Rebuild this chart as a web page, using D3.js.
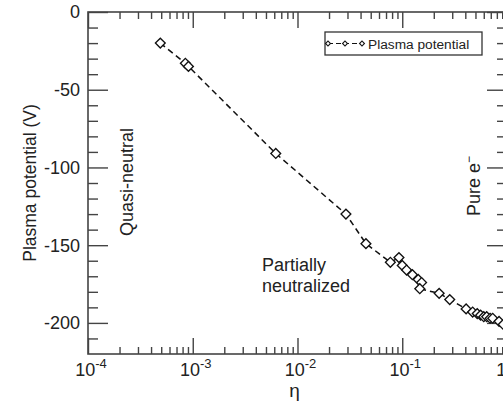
<!DOCTYPE html>
<html>
<head>
<meta charset="utf-8">
<script src="https://cdn.jsdelivr.net/npm/d3@7"></script>
<style>
  body { margin: 0; background: #fff; }
  text { font-family: "Liberation Sans", Arial, sans-serif; fill: #222; }
</style>
</head>
<body>
<div id="wrapper"></div>
<script>
// data
const etaValues = [4.9e-4, 8.5e-4, 9.1e-4, 6.2e-3, 0.029, 0.045, 0.077, 0.093, 0.100, 0.110,
  0.125, 0.142, 0.153, 0.147, 0.225, 0.284, 0.407, 0.47, 0.52, 0.56, 0.60, 0.64, 0.69, 0.73,
  0.84, 0.92]
const potentialValues = [-20, -33, -35, -91, -130, -149, -161, -158, -163, -166,
  -169, -172, -174, -178, -181, -185, -191, -193, -194, -195, -196, -196, -197, -197,
  -199, -201]

const xDecades = [1e-4, 1e-3, 1e-2, 1e-1, 1]
const xTickExponents = ["-4", "-3", "-2", "-1", "0"]
const yMajorTicks = [0, -50, -100, -150, -200]
const regionLabels = ["Quasi-neutral", "Partially", "neutralized", "Pure e"]
const legendLabel = "Plasma potential"

function drawChart() {
  const dataset = etaValues.map((d, i) => ({ eta: d, v: potentialValues[i] }))
  const xAccessor = d => d.eta
  const yAccessor = d => d.v

  // dimensions
  let dimensions = {
    width: 503,
    height: 402,
    left: 88,
    right: 507,
    top: 12,
    bottom: 354,
  }

  const svg = d3.select("#wrapper").append("svg")
    .attr("width", dimensions.width)
    .attr("height", dimensions.height)

  // scales
  const xScale = d3.scaleLog()
    .domain([1e-4, 1])
    .range([dimensions.left, dimensions.right])

  const yScale = d3.scaleLinear()
    .domain([-220, 0])
    .range([dimensions.bottom, dimensions.top])

  // minor ticks
  const xMinor = []
  xDecades.slice(0, -1).forEach(dec => {
    for (let k = 2; k <= 9; k++) xMinor.push(dec * k)
  })
  const yMinor = d3.range(-210, 0, 10).filter(d => d % 50 !== 0)

  const tickStyle = g => {
    g.select(".domain").remove()
    g.selectAll("line").attr("stroke", "#444").attr("stroke-width", 1.4)
  }

  // left / right axes
  svg.append("g").attr("transform", `translate(${dimensions.left},0)`)
    .call(d3.axisRight(yScale).tickValues(yMajorTicks).tickSize(20).tickFormat(""))
    .call(tickStyle)
  svg.append("g").attr("transform", `translate(${dimensions.left},0)`)
    .call(d3.axisRight(yScale).tickValues(yMinor).tickSize(10).tickFormat(""))
    .call(tickStyle)
  svg.append("g").attr("transform", `translate(${dimensions.right},0)`)
    .call(d3.axisLeft(yScale).tickValues(yMajorTicks).tickSize(20).tickFormat(""))
    .call(tickStyle)
  svg.append("g").attr("transform", `translate(${dimensions.right},0)`)
    .call(d3.axisLeft(yScale).tickValues(yMinor).tickSize(10).tickFormat(""))
    .call(tickStyle)

  // bottom / top axes
  svg.append("g").attr("transform", `translate(0,${dimensions.bottom})`)
    .call(d3.axisTop(xScale).tickValues(xDecades).tickSize(16).tickFormat(""))
    .call(tickStyle)
  svg.append("g").attr("transform", `translate(0,${dimensions.bottom})`)
    .call(d3.axisTop(xScale).tickValues(xMinor).tickSize(7).tickFormat(""))
    .call(tickStyle)
  svg.append("g").attr("transform", `translate(0,${dimensions.top})`)
    .call(d3.axisBottom(xScale).tickValues(xDecades).tickSize(16).tickFormat(""))
    .call(tickStyle)
  svg.append("g").attr("transform", `translate(0,${dimensions.top})`)
    .call(d3.axisBottom(xScale).tickValues(xMinor).tickSize(7).tickFormat(""))
    .call(tickStyle)

  // frame
  svg.append("rect")
    .attr("x", dimensions.left)
    .attr("y", dimensions.top)
    .attr("width", dimensions.right - dimensions.left)
    .attr("height", dimensions.bottom - dimensions.top)
    .attr("fill", "none")
    .attr("stroke", "#444")
    .attr("stroke-width", 1.6)

  // y tick labels
  svg.selectAll(".y-label")
    .data(yMajorTicks)
    .enter().append("text")
    .attr("x", dimensions.left - 8)
    .attr("y", d => yScale(d))
    .attr("dy", "0.36em")
    .attr("text-anchor", "end")
    .style("font-size", "18px")
    .text(d => d)

  // x tick labels 10^n
  const xLabels = svg.selectAll(".x-label")
    .data(xDecades)
    .enter().append("text")
    .attr("x", d => xScale(d) + 3)
    .attr("y", 376)
    .attr("text-anchor", "middle")
    .style("font-size", "18px")
  xLabels.append("tspan").text("10")
  xLabels.append("tspan")
    .attr("dy", -8)
    .style("font-size", "13px")
    .text((d, i) => xTickExponents[i])

  // axis titles
  svg.append("text")
    .attr("transform", `translate(36,${(dimensions.top + dimensions.bottom) / 2}) rotate(-90)`)
    .attr("text-anchor", "middle")
    .style("font-size", "17.5px")
    .text("Plasma potential (V)")

  svg.append("text")
    .attr("x", (dimensions.left + dimensions.right) / 2 - 3)
    .attr("y", 397)
    .attr("text-anchor", "middle")
    .style("font-size", "19px")
    .text("η")

  // region labels
  svg.append("text")
    .attr("transform", "translate(133,182) rotate(-90)")
    .attr("text-anchor", "middle")
    .style("font-size", "18px")
    .text(regionLabels[0])

  svg.append("text")
    .attr("x", 262)
    .attr("y", 270.5)
    .style("font-size", "18px")
    .text(regionLabels[1])
  svg.append("text")
    .attr("x", 262)
    .attr("y", 291.5)
    .style("font-size", "18px")
    .text(regionLabels[2])

  const pure = svg.append("text")
    .attr("transform", "translate(480,186) rotate(-90)")
    .attr("text-anchor", "middle")
    .style("font-size", "18px")
  pure.append("tspan").text(regionLabels[3])
  pure.append("tspan").attr("dy", -7).style("font-size", "12px").text("−")

  // line + markers
  const lineGenerator = d3.line()
    .x(d => xScale(xAccessor(d)))
    .y(d => yScale(yAccessor(d)))

  svg.append("path")
    .attr("d", lineGenerator(dataset))
    .attr("fill", "none")
    .attr("stroke", "#111")
    .attr("stroke-width", 1.5)
    .attr("stroke-dasharray", "6,4")

  const diamond = d3.symbol(d3.symbolSquare, 48)
  svg.selectAll(".dot")
    .data(dataset)
    .enter().append("path")
    .attr("class", "dot")
    .attr("d", diamond)
    .attr("transform", d => `translate(${xScale(xAccessor(d))},${yScale(yAccessor(d))}) rotate(45)`)
    .attr("fill", "#fff")
    .attr("stroke", "#111")
    .attr("stroke-width", 1.35)

  // legend
  const legend = svg.append("g")
  legend.append("rect")
    .attr("x", 325)
    .attr("y", 32)
    .attr("width", 157)
    .attr("height", 23)
    .attr("fill", "#fff")
    .attr("stroke", "#333")
    .attr("stroke-width", 1.3)
  legend.append("line")
    .attr("x1", 328).attr("x2", 362)
    .attr("y1", 43.5).attr("y2", 43.5)
    .attr("stroke", "#111")
    .attr("stroke-width", 1.2)
    .attr("stroke-dasharray", "5,3")
  legend.selectAll(".legend-dot")
    .data([328, 345, 362])
    .enter().append("path")
    .attr("d", d3.symbol(d3.symbolSquare, 12))
    .attr("transform", d => `translate(${d},43.5) rotate(45)`)
    .attr("fill", "#fff")
    .attr("stroke", "#111")
    .attr("stroke-width", 1.1)
  legend.append("text")
    .attr("x", 368)
    .attr("y", 48.5)
    .style("font-size", "13.7px")
    .text(legendLabel)
}
drawChart()
</script>
</body>
</html>
